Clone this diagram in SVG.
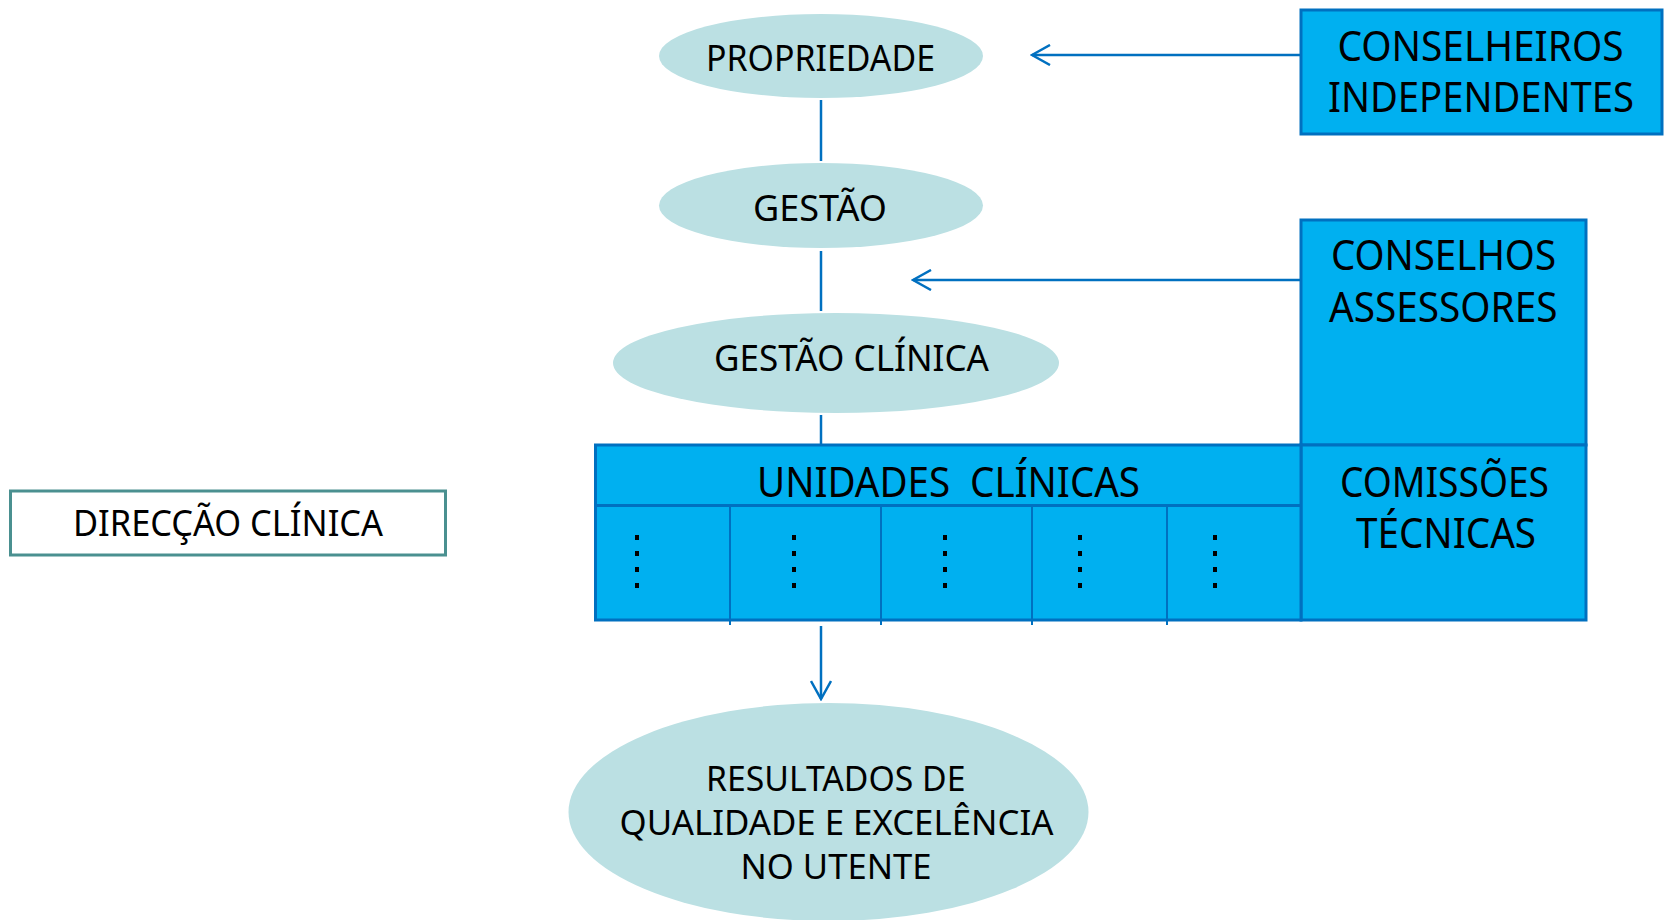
<svg xmlns="http://www.w3.org/2000/svg" width="1664" height="920" viewBox="0 0 1664 920">
<style>
.ell{fill:#BBE0E3;stroke:none}
.box{fill:#00B0F0;stroke:#0070C0;stroke-width:3}
.con{stroke:#0070C0;stroke-width:2.5;fill:none}
.div{stroke:#0070C0;stroke-width:2;fill:none}
.dots{stroke:#000;stroke-width:4;stroke-dasharray:5 11;fill:none}
text{font-family:"Noto Sans","Open Sans","DejaVu Sans",sans-serif;fill:#000}
.t36{font-size:36px}
.t35{font-size:35px}
.t41{font-size:41px}
.t37{font-size:37px}
</style>
<defs>
<marker id="arr" viewBox="0 0 22 22" refX="20" refY="11" markerWidth="22" markerHeight="22" orient="auto" markerUnits="userSpaceOnUse">
<path d="M2,1 L20,11 L2,21" fill="none" stroke="#0070C0" stroke-width="2.5"/>
</marker>
</defs>
<rect width="1664" height="920" fill="#fff"/>

<g id="connectors">
<line class="con" x1="821" y1="100" x2="821" y2="161"/>
<line class="con" x1="821" y1="251" x2="821" y2="311"/>
<line class="con" x1="821" y1="415" x2="821" y2="445"/>
<line class="con" x1="1301" y1="55" x2="1032" y2="55" marker-end="url(#arr)"/>
<line class="con" x1="1301" y1="280" x2="913" y2="280" marker-end="url(#arr)"/>
<line class="con" x1="821" y1="626" x2="821" y2="699" marker-end="url(#arr)"/>
</g>

<g id="propriedade">
<ellipse class="ell" cx="821" cy="56" rx="162" ry="42"/>
<text class="t36" x="706" y="70.7" textLength="229" lengthAdjust="spacingAndGlyphs">PROPRIEDADE</text>
</g>

<g id="gestao">
<ellipse class="ell" cx="821" cy="205.5" rx="162" ry="42.5"/>
<text class="t36" x="753" y="220.7" textLength="134" lengthAdjust="spacingAndGlyphs">GESTÃO</text>
</g>

<g id="gestao-clinica">
<ellipse class="ell" cx="836" cy="363" rx="223" ry="50"/>
<text class="t36" x="714" y="370.7" textLength="275" lengthAdjust="spacingAndGlyphs">GESTÃO CLÍNICA</text>
</g>

<g id="conselheiros-independentes">
<rect class="box" x="1301" y="10" width="361" height="124"/>
<text class="t41" x="1337.5" y="60.7" textLength="286" lengthAdjust="spacingAndGlyphs">CONSELHEIROS</text>
<text class="t41" x="1328" y="111.7" textLength="306" lengthAdjust="spacingAndGlyphs">INDEPENDENTES</text>
</g>

<g id="conselhos-assessores">
<rect class="box" x="1301" y="220" width="285" height="225"/>
<text class="t41" x="1331" y="270" textLength="225" lengthAdjust="spacingAndGlyphs">CONSELHOS</text>
<text class="t41" x="1329" y="321.7" textLength="228.5" lengthAdjust="spacingAndGlyphs">ASSESSORES</text>
</g>

<g id="comissoes-tecnicas">
<rect class="box" x="1301" y="445" width="285" height="175"/>
<text class="t41" x="1340" y="496.7" textLength="209" lengthAdjust="spacingAndGlyphs">COMISSÕES</text>
<text class="t41" x="1356" y="547.7" textLength="180" lengthAdjust="spacingAndGlyphs">TÉCNICAS</text>
</g>

<g id="unidades-clinicas">
<rect class="box" x="595.5" y="445" width="705.5" height="175"/>
<line x1="595.5" y1="505.5" x2="1301" y2="505.5" stroke="#0070C0" stroke-width="3"/>
<line class="div" x1="730" y1="505.5" x2="730" y2="625"/>
<line class="div" x1="881" y1="505.5" x2="881" y2="625"/>
<line class="div" x1="1032" y1="505.5" x2="1032" y2="625"/>
<line class="div" x1="1167" y1="505.5" x2="1167" y2="625"/>
<text class="t41" x="757" y="496.7" textLength="383" lengthAdjust="spacingAndGlyphs" xml:space="preserve">UNIDADES  CLÍNICAS</text>
<line class="dots" x1="637" y1="535" x2="637" y2="588"/>
<line class="dots" x1="794" y1="535" x2="794" y2="588"/>
<line class="dots" x1="945" y1="535" x2="945" y2="588"/>
<line class="dots" x1="1080" y1="535" x2="1080" y2="588"/>
<line class="dots" x1="1215" y1="535" x2="1215" y2="588"/>
</g>

<g id="direccao-clinica">
<rect x="10.5" y="491" width="435" height="64" fill="#fff" stroke="#4A9090" stroke-width="3"/>
<text class="t37" x="73" y="536" textLength="310" lengthAdjust="spacingAndGlyphs">DIRECÇÃO CLÍNICA</text>
</g>

<g id="resultados">
<ellipse class="ell" cx="828.5" cy="812" rx="260" ry="109"/>
<text class="t35" x="706" y="791" textLength="259.5" lengthAdjust="spacingAndGlyphs">RESULTADOS DE</text>
<text class="t35" x="619.5" y="835" textLength="434" lengthAdjust="spacingAndGlyphs">QUALIDADE E EXCELÊNCIA</text>
<text class="t35" x="740.5" y="879" textLength="191" lengthAdjust="spacingAndGlyphs">NO UTENTE</text>
</g>
</svg>
